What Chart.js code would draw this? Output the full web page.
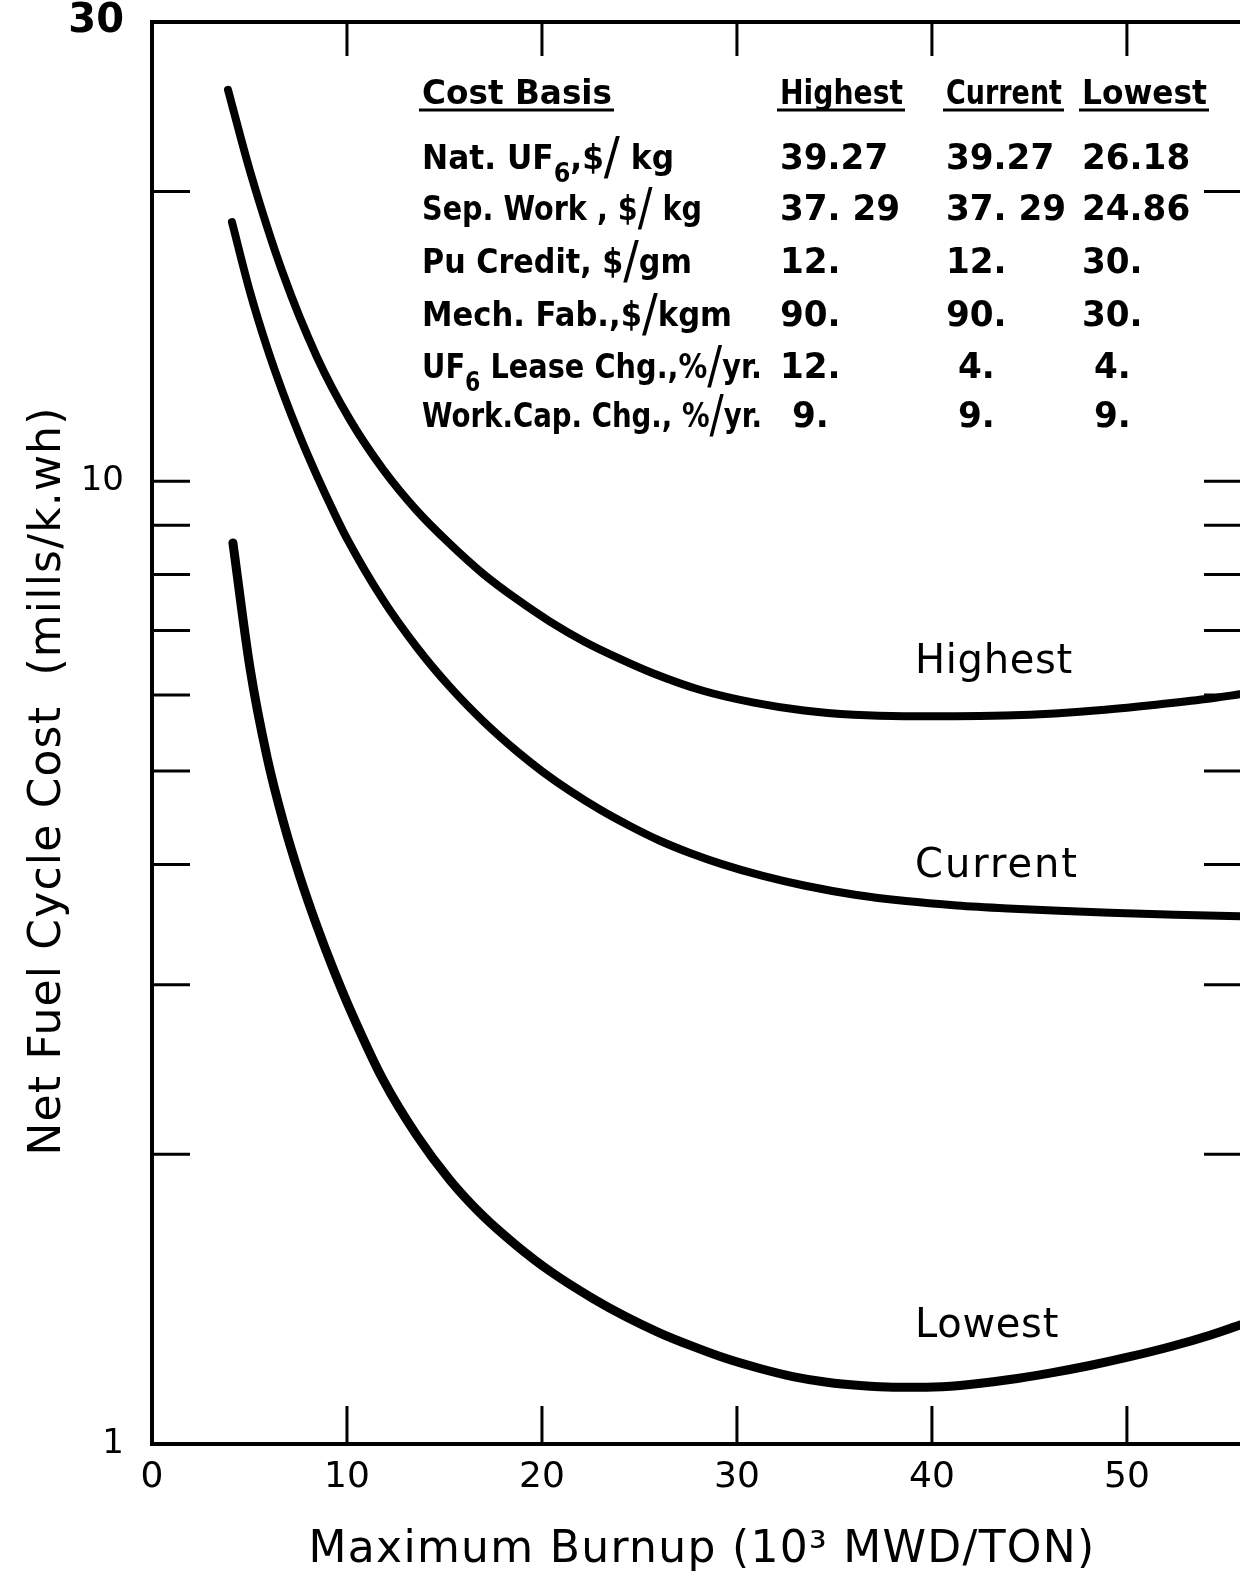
<!DOCTYPE html>
<html>
<head>
<meta charset="utf-8">
<script src="https://cdn.jsdelivr.net/npm/chart.js@4.4.0/dist/chart.umd.min.js"></script>
<style>
html,body{margin:0;padding:0;background:#fff;overflow:hidden}
canvas{display:block}
</style>
</head>
<body>
<canvas id="c" width="1240" height="1576"></canvas>
<script>
// ---------------- data ----------------
const highestX = [3.9, 5.03, 6.72, 8.46, 10.15, 11.85, 13.59, 15.28, 16.97, 18.72, 20.41, 22.21, 24.0, 25.69, 28.26, 30.87, 33.44, 36.0, 38.56, 41.18, 43.74, 46.31, 48.87, 51.49, 54.05, 55.8];
const highestY = [25.5, 20.99, 16.43, 13.46, 11.59, 10.29, 9.32, 8.61, 8.02, 7.54, 7.15, 6.81, 6.54, 6.32, 6.06, 5.89, 5.78, 5.72, 5.70, 5.70, 5.71, 5.74, 5.79, 5.86, 5.94, 6.01];

const currentX = [4.1, 5.03, 5.9, 6.72, 7.59, 8.46, 9.28, 10.0, 11.85, 13.59, 15.28, 16.97, 18.72, 20.05, 21.44, 22.97, 24.51, 26.05, 27.59, 29.23, 31.33, 33.44, 36.05, 38.67, 41.28, 43.9, 46.51, 49.13, 52.46, 55.8];
const currentY = [18.59, 15.72, 13.77, 12.35, 11.13, 10.13, 9.33, 8.72, 7.53, 6.72, 6.115, 5.638, 5.241, 4.990, 4.769, 4.561, 4.385, 4.233, 4.111, 4.003, 3.891, 3.803, 3.720, 3.664, 3.626, 3.600, 3.580, 3.563, 3.546, 3.533];

const lowestX = [4.15, 5.03, 5.9, 6.72, 7.59, 8.46, 9.28, 10.15, 11.85, 13.59, 15.28, 16.97, 18.72, 20.41, 22.62, 24.36, 26.05, 27.74, 29.49, 31.18, 32.87, 34.62, 36.31, 38.0, 39.74, 41.44, 43.9, 46.05, 48.1, 50.15, 52.26, 54.26, 55.8];
const lowestY = [8.63, 6.39, 5.17, 4.44, 3.88, 3.45, 3.12, 2.83, 2.39, 2.09, 1.88, 1.726, 1.606, 1.512, 1.416, 1.354, 1.304, 1.263, 1.226, 1.198, 1.175, 1.159, 1.150, 1.1456, 1.1456, 1.150, 1.1659, 1.1848, 1.2066, 1.2322, 1.2627, 1.2973, 1.3293];

const curveNames = ['Highest', 'Current', 'Lowest'];

const xMin = 0, xMax = 55.8;
const yMin = 1, yMax = 30;
const xTickValues = [0, 10, 20, 30, 40, 50];
const xFrameTicks = [10, 20, 30, 40, 50];
const yTickValues = [1, 2, 3, 4, 5, 6, 7, 8, 9, 10, 20, 30];
const yLabelledTicks = [1, 10, 30];
const yFrameTicks = [2, 3, 4, 5, 6, 7, 8, 9, 10, 20];

const xTitle = 'Maximum Burnup (10\u00B3 MWD/TON)';
const yTitle = 'Net Fuel Cycle Cost  (mills/k.wh)';

const tableHeader = ['Cost Basis', 'Highest', 'Current', 'Lowest'];
const costItems = ['Nat. UF_6,$/ kg', 'Sep. Work , $/ kg', 'Pu Credit, $/gm', 'Mech. Fab.,$/kgm', 'UF_6 Lease Chg.,%/yr.', 'Work.Cap. Chg., %/yr.'];
const highestBasis = ['39.27', '37. 29', '12.', '90.', '12.', ' 9.'];
const currentBasis = ['39.27', '37. 29', '12.', '90.', ' 4.', ' 9.'];
const lowestBasis = ['26.18', '24.86', '30.', '30.', ' 4.', ' 9.'];

// ---------------- layout / style ----------------
const FONT = '"DejaVu Sans", "Liberation Sans", sans-serif';
const L = {
  top: 22, yAxisW: 152, xAxisH: 132,
  tickLeft: 38, tickRight: 36, tickTop: 34, tickBottom: 38,
  xTitle: { cx: 702, base: 1562, w: 787, font: '44px ' + FONT },
  yTitle: { x: 60, cy: 781, w: 749, font: '44px ' + FONT },
  table: {
    headBase: 104, ulY: 110, headW: [190, 123, 116, 125],
    rowBase: [169, 220, 273, 326, 378, 427],
    colX: [422, 780, 946, 1082],
    labelW: [252, 280, 270, 310, 340, 340],
    headFont: 'bold 33px ' + FONT, valFont: 'bold 36px ' + FONT, valScale: 0.95
  },
  curveLab: { x: 915, base: [673, 877, 1337], w: [158, 164, 144], font: '40px ' + FONT }
};

function pts(xs, ys) { return xs.map((x, i) => ({ x: x, y: ys[i] })); }

function fitText(ctx, text, x, y, w, font, align) {
  ctx.save();
  ctx.font = font;
  ctx.textAlign = 'left';
  ctx.textBaseline = 'alphabetic';
  let nat = ctx.measureText(text).width;
  if ('letterSpacing' in ctx && w > nat) {
    ctx.letterSpacing = ((w - nat) / text.length) + 'px';
    nat = ctx.measureText(text).width;
  }
  const k = w / nat;
  ctx.translate(align === 'center' ? x - w / 2 : x, y);
  ctx.scale(k, 1);
  ctx.fillText(text, 0, 0);
  ctx.restore();
}

function richSegments(s) {
  const out = []; let buf = '';
  for (let i = 0; i < s.length; i++) {
    const c = s[i];
    if (c === '_') { if (buf) { out.push({ t: buf, k: 'n' }); buf = ''; } out.push({ t: s[i + 1], k: 'sub' }); i++; }
    else if (c === '/') { if (buf) { out.push({ t: buf, k: 'n' }); buf = ''; } out.push({ t: '/', k: 'sl' }); }
    else buf += c;
  }
  if (buf) out.push({ t: buf, k: 'n' });
  return out;
}

function drawRich(ctx, s, x, y, w) {
  const fonts = { n: 'bold 34px ' + FONT, sub: 'bold 26px ' + FONT, sl: '52px ' + FONT };
  const dy = { n: 0, sub: 13, sl: 5 };
  const segs = richSegments(s);
  ctx.save();
  ctx.textAlign = 'left'; ctx.textBaseline = 'alphabetic';
  let tot = 0;
  segs.forEach(g => { ctx.font = fonts[g.k]; g.w = ctx.measureText(g.t).width; tot += g.w; });
  const k = w / tot;
  ctx.translate(x, y); ctx.scale(k, 1);
  let cx = 0;
  segs.forEach(g => { ctx.font = fonts[g.k]; ctx.fillText(g.t, cx, dy[g.k]); cx += g.w; });
  ctx.restore();
}

const overlay = {
  id: 'overlay',
  afterDraw(chart) {
    const ctx = chart.ctx, a = chart.chartArea, xs = chart.scales.x, ys = chart.scales.y;
    ctx.save();
    ctx.strokeStyle = '#000'; ctx.fillStyle = '#000';
    // frame (left, top, bottom; the right side runs off the sheet)
    ctx.lineWidth = 4; ctx.lineCap = 'square';
    ctx.beginPath();
    ctx.moveTo(a.right + 6, a.top); ctx.lineTo(a.left, a.top);
    ctx.lineTo(a.left, a.bottom); ctx.lineTo(a.right + 6, a.bottom);
    ctx.stroke();
    // inward ticks
    ctx.lineWidth = 3; ctx.lineCap = 'butt';
    ctx.beginPath();
    yFrameTicks.forEach(v => {
      const py = ys.getPixelForValue(v);
      ctx.moveTo(a.left, py); ctx.lineTo(a.left + L.tickLeft, py);
      ctx.moveTo(a.right - L.tickRight, py); ctx.lineTo(a.right, py);
    });
    xFrameTicks.forEach(v => {
      const px = xs.getPixelForValue(v);
      ctx.moveTo(px, a.top); ctx.lineTo(px, a.top + L.tickTop);
      ctx.moveTo(px, a.bottom); ctx.lineTo(px, a.bottom - L.tickBottom);
    });
    ctx.stroke();

    // axis titles
    fitText(ctx, xTitle, L.xTitle.cx, L.xTitle.base, L.xTitle.w, L.xTitle.font, 'center');
    ctx.save();
    ctx.translate(L.yTitle.x, L.yTitle.cy);
    ctx.rotate(-Math.PI / 2);
    fitText(ctx, yTitle, 0, 0, L.yTitle.w, L.yTitle.font, 'center');
    ctx.restore();

    // curve labels
    curveNames.forEach((n, i) => fitText(ctx, n, L.curveLab.x, L.curveLab.base[i], L.curveLab.w[i], L.curveLab.font, 'left'));

    // cost basis table
    const T = L.table;
    ctx.lineWidth = 3;
    tableHeader.forEach((h, i) => {
      fitText(ctx, h, T.colX[i], T.headBase, T.headW[i], T.headFont, 'left');
      ctx.beginPath();
      ctx.moveTo(T.colX[i] - 3, T.ulY); ctx.lineTo(T.colX[i] + T.headW[i] + 2, T.ulY);
      ctx.stroke();
    });
    costItems.forEach((s, r) => drawRich(ctx, s, T.colX[0], T.rowBase[r], T.labelW[r]));
    ctx.font = T.valFont; ctx.textAlign = 'left'; ctx.textBaseline = 'alphabetic';
    [highestBasis, currentBasis, lowestBasis].forEach((col, c) => {
      col.forEach((v, r) => {
        ctx.save();
        ctx.translate(T.colX[c + 1], T.rowBase[r]);
        ctx.scale(T.valScale, 1);
        ctx.fillText(v, 0, 0);
        ctx.restore();
      });
    });
    ctx.restore();
  }
};

const lineStyle = {
  borderColor: '#000', backgroundColor: '#000', borderWidth: 8,
  pointRadius: 0, fill: false, cubicInterpolationMode: 'monotone',
  borderCapStyle: 'round', borderJoinStyle: 'round'
};

new Chart(document.getElementById('c'), {
  type: 'line',
  data: {
    datasets: [
      Object.assign({ label: curveNames[0], data: pts(highestX, highestY) }, lineStyle),
      Object.assign({ label: curveNames[1], data: pts(currentX, currentY) }, lineStyle),
      Object.assign({ label: curveNames[2], data: pts(lowestX, lowestY) }, lineStyle, { borderWidth: 9 })
    ]
  },
  options: {
    responsive: false, animation: false, devicePixelRatio: 1,
    layout: { padding: { top: L.top, right: 0, bottom: 0, left: 0 } },
    plugins: { legend: { display: false }, tooltip: { enabled: false } },
    scales: {
      x: {
        type: 'linear', min: xMin, max: xMax, bounds: 'data',
        afterBuildTicks: s => { s.ticks = xTickValues.map(v => ({ value: v })); },
        afterFit: s => { s.height = L.xAxisH; s.paddingLeft = 0; s.paddingRight = 0; },
        grid: { display: false, drawTicks: false }, border: { display: false },
        ticks: { padding: 12, color: '#000', autoSkip: false, maxRotation: 0,
          font: { family: FONT, size: 36 }, callback: v => String(v) }
      },
      y: {
        type: 'logarithmic', min: yMin, max: yMax, bounds: 'data',
        afterBuildTicks: s => { s.ticks = yTickValues.map(v => ({ value: v })); },
        afterFit: s => { s.width = L.yAxisW; s.paddingTop = 0; s.paddingBottom = 0; },
        grid: { display: false, drawTicks: false }, border: { display: false },
        ticks: { padding: 28, color: '#000', autoSkip: false,
          font: ctx => (ctx.tick && ctx.tick.value === 30)
            ? { family: FONT, size: 40, weight: 'bold', lineHeight: 1 }
            : { family: FONT, size: 34, lineHeight: 1 },
          callback: v => yLabelledTicks.includes(v) ? String(v) : '' }
      }
    }
  },
  plugins: [overlay]
});
</script>
</body>
</html>
